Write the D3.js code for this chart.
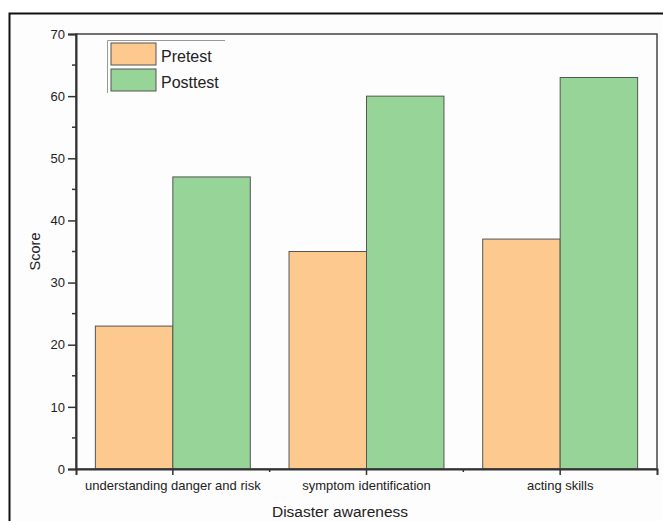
<!DOCTYPE html>
<html><head><meta charset="utf-8">
<script src="https://cdn.jsdelivr.net/npm/d3@7"></script>
<style>body{margin:0;background:#fff}svg{display:block}text{font-family:"Liberation Sans",Arial,sans-serif;fill:#222}</style>
</head><body>
<script>
const categories = ["understanding danger and risk", "symptom identification", "acting skills"];
const series = ["Pretest", "Posttest"];
const pretest = [23, 35, 37];
const posttest = [47, 60, 63];
const yTicks = [0, 10, 20, 30, 40, 50, 60, 70];
const colors = ["#fdc98e", "#97d498"];

const W = 663, H = 521;
const M = {left: 76, top: 34, right: 657, bottom: 469};
const svg = d3.select("body").append("svg").attr("width", W).attr("height", H);

svg.append("rect").attr("x", 9.5).attr("y", 13.5).attr("width", W).attr("height", H)
  .attr("fill", "#fdfdfd").attr("stroke", "#111").attr("stroke-width", 2);

const x = d3.scaleBand().domain(categories).range([M.left, M.right]).paddingInner(0.2).paddingOuter(0.1);
const xs = d3.scaleBand().domain(series).range([0, x.bandwidth()]);
const y = d3.scaleLinear().domain([0, 70]).range([M.bottom, M.top]);

const data = categories.map((c, i) => ({c, vals: [pretest[i], posttest[i]]}));
const g = svg.append("g");
data.forEach(d => {
  d.vals.forEach((v, j) => {
    g.append("rect")
      .attr("x", x(d.c) + xs(series[j]))
      .attr("y", y(v))
      .attr("width", xs.bandwidth())
      .attr("height", y(0) - y(v))
      .attr("fill", colors[j]).attr("stroke", "#555").attr("stroke-width", 1);
  });
});

// plot frame
svg.append("rect").attr("x", M.left).attr("y", M.top).attr("width", M.right - M.left).attr("height", M.bottom - M.top)
  .attr("fill", "none").attr("stroke", "#444").attr("stroke-width", 1.5);

// y axis
const yAx = svg.append("g").attr("transform", `translate(${M.left},0)`)
  .call(d3.axisLeft(y).tickValues(yTicks).tickSize(8).tickPadding(3));
yAx.select(".domain").attr("stroke", "#333").attr("stroke-width", 2);
yAx.selectAll(".tick line").attr("stroke", "#333").attr("stroke-width", 1.5);
yAx.selectAll(".tick text").attr("font-size", 13).style("font-family", "Liberation Sans, Arial, sans-serif").attr("fill", "#222");
const yMinor = d3.range(5, 70, 10);
svg.append("g").selectAll("line").data(yMinor).join("line")
  .attr("x1", M.left - 4).attr("x2", M.left).attr("y1", d => y(d)).attr("y2", d => y(d))
  .attr("stroke", "#333").attr("stroke-width", 1.5);

// x axis
const xAx = svg.append("g").attr("transform", `translate(0,${M.bottom})`)
  .call(d3.axisBottom(x).tickSize(6).tickPadding(6));
xAx.select(".domain").attr("stroke", "#333").attr("stroke-width", 2);
xAx.selectAll(".tick line").attr("stroke", "#333").attr("stroke-width", 1.5);
xAx.selectAll(".tick text").attr("font-size", 13).style("font-family", "Liberation Sans, Arial, sans-serif").attr("fill", "#222");
const xMinor = [1, 2].map(i => x(categories[i]) - x.step() * x.paddingInner() / 2);
svg.append("g").selectAll("line").data(xMinor).join("line")
  .attr("x1", d => d).attr("x2", d => d).attr("y1", M.bottom).attr("y2", M.bottom + 3)
  .attr("stroke", "#333").attr("stroke-width", 1.5);

// axis titles
svg.append("text").attr("transform", `translate(40,${(M.top + M.bottom) / 2}) rotate(-90)`)
  .attr("text-anchor", "middle").attr("font-size", 14.5).text("Score");
svg.append("text").attr("x", 340).attr("y", 517)
  .attr("text-anchor", "middle").attr("font-size", 15.5).text("Disaster awareness");

// legend
const lg = svg.append("g");
lg.append("path").attr("d", "M107.5,93 V40.5 H225").attr("fill", "none").attr("stroke", "#999").attr("stroke-width", 1);
series.forEach((s, j) => {
  lg.append("rect").attr("x", 111).attr("y", 43 + j * 26).attr("width", 45).attr("height", 22)
    .attr("fill", colors[j]).attr("stroke", "#555").attr("stroke-width", 1);
  lg.append("text").attr("x", 161).attr("y", 62 + j * 26).attr("font-size", 16).text(s);
});
</script>
</body></html>
